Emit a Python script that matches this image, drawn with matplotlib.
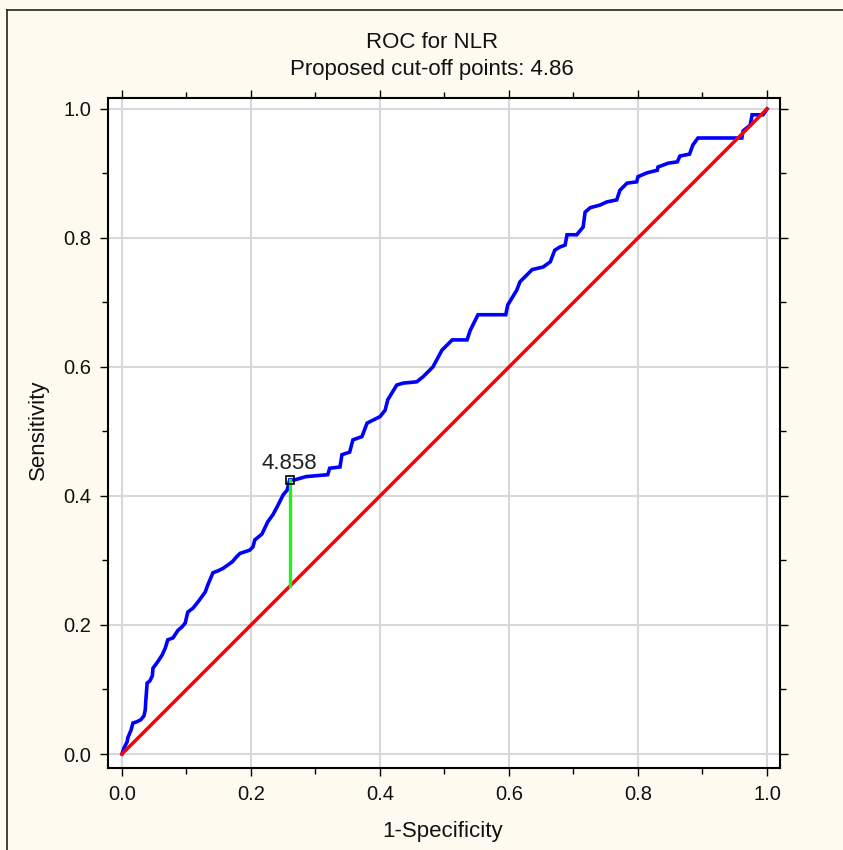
import matplotlib
matplotlib.use("Agg")
import matplotlib.pyplot as plt
from matplotlib import font_manager
from matplotlib.lines import Line2D

# ---- data ----
fpr = [0.000, 0.003, 0.008, 0.009, 0.014, 0.017, 0.023, 0.029, 0.034, 0.036, 0.037, 0.039,
       0.043, 0.047, 0.048, 0.054, 0.062, 0.067, 0.071, 0.079, 0.087, 0.093, 0.098, 0.102,
       0.110, 0.118, 0.129, 0.133, 0.141, 0.149, 0.157, 0.164, 0.171, 0.177, 0.183, 0.198,
       0.203, 0.206, 0.211, 0.217, 0.226, 0.234, 0.242, 0.250, 0.256, 0.260, 0.268, 0.285,
       0.319, 0.322, 0.338, 0.341, 0.353, 0.358, 0.372, 0.380, 0.400, 0.408, 0.412, 0.426,
       0.436, 0.457, 0.467, 0.482, 0.488, 0.496, 0.512, 0.535, 0.540, 0.552, 0.595, 0.598,
       0.612, 0.617, 0.628, 0.636, 0.653, 0.664, 0.671, 0.679, 0.687, 0.690, 0.705, 0.715,
       0.718, 0.726, 0.741, 0.752, 0.767, 0.772, 0.783, 0.798, 0.800, 0.814, 0.830, 0.831,
       0.847, 0.861, 0.865, 0.880, 0.885, 0.893, 0.961, 0.963, 0.974, 0.977, 0.994, 1.000]
tpr = [0.000, 0.009, 0.019, 0.025, 0.037, 0.048, 0.050, 0.053, 0.059, 0.068, 0.084, 0.110,
       0.113, 0.121, 0.133, 0.141, 0.153, 0.164, 0.177, 0.180, 0.192, 0.197, 0.203, 0.220,
       0.226, 0.236, 0.251, 0.262, 0.281, 0.284, 0.288, 0.293, 0.298, 0.305, 0.311, 0.316,
       0.321, 0.332, 0.336, 0.341, 0.360, 0.371, 0.386, 0.402, 0.409, 0.425, 0.425, 0.430,
       0.433, 0.443, 0.445, 0.464, 0.468, 0.487, 0.492, 0.513, 0.523, 0.533, 0.549, 0.572,
       0.575, 0.577, 0.585, 0.600, 0.611, 0.626, 0.642, 0.642, 0.657, 0.681, 0.681, 0.696,
       0.719, 0.732, 0.743, 0.751, 0.755, 0.763, 0.781, 0.786, 0.789, 0.805, 0.805, 0.817,
       0.840, 0.847, 0.851, 0.856, 0.859, 0.874, 0.885, 0.887, 0.895, 0.901, 0.905, 0.910,
       0.916, 0.918, 0.927, 0.930, 0.944, 0.955, 0.955, 0.966, 0.975, 0.991, 0.991, 1.000]
ref_line = [0.0, 1.0]
cutoff_fpr = 0.260
cutoff_tpr = 0.425
cutoff_label = "4.858"
xticks = [0.0, 0.2, 0.4, 0.6, 0.8, 1.0]
yticks = [0.0, 0.2, 0.4, 0.6, 0.8, 1.0]
title_lines = ["ROC for NLR", "Proposed cut-off points: 4.86"]
xlabel = "1-Specificity"
ylabel = "Sensitivity"

# ---- font ----
avail = {f.name for f in font_manager.fontManager.ttflist}
fam = "Liberation Sans Narrow" if "Liberation Sans Narrow" in avail else "Liberation Sans"
plt.rcParams['font.family'] = [fam, 'DejaVu Sans']

W, H = 843, 850
fig = plt.figure(figsize=(W / 100, H / 100), dpi=100)
bg = '#fffaef'
fig.patch.set_facecolor(bg)

# frame lines (left / top) of the window
fig.add_artist(Line2D([6.5 / W, 6.5 / W], [0, 1 - 10 / H], transform=fig.transFigure, color='#222222', lw=1.2))
fig.add_artist(Line2D([6.5 / W, 1], [1 - 10 / H, 1 - 10 / H], transform=fig.transFigure, color='#222222', lw=1.2))

ax = fig.add_axes([108 / W, 1 - 768 / H, (780 - 108) / W, (768 - 98) / H])
ax.set_facecolor('white')
ax.set_xlim(-0.0217, 1.0202)
ax.set_ylim(-0.0217, 1.017)

ax.set_xticks(xticks)
ax.set_yticks(yticks)
ax.set_xticks([0.1, 0.3, 0.5, 0.7, 0.9], minor=True)
ax.set_yticks([0.1, 0.3, 0.5, 0.7, 0.9], minor=True)
ax.set_xticklabels([f"{v:.1f}" for v in xticks])
ax.set_yticklabels([f"{v:.1f}" for v in yticks])
ax.tick_params(which='both', direction='out', top=True, right=True, labeltop=False, labelright=False,
               width=1.0, color='black', labelsize=14.5, labelcolor='#111111')
ax.tick_params(which='major', length=6, pad=6)
ax.tick_params(which='minor', length=4)
for s in ax.spines.values():
    s.set_linewidth(1.5)
    s.set_color('black')

ax.grid(True, which='major', color='#d8d8d8', lw=1.5)
ax.set_axisbelow(True)

ax.plot(fpr, tpr, color='#0000ff', lw=2.6, solid_joinstyle='miter', zorder=3)
ax.plot(ref_line, ref_line, color='#ff0000', lw=2.5, zorder=4)
ax.plot([cutoff_fpr, cutoff_fpr], [cutoff_fpr, cutoff_tpr], color='#22ee22', lw=2.4, zorder=5)
ax.plot([cutoff_fpr], [cutoff_tpr], marker='s', ms=6, mfc='none', mec='black', mew=1.2, zorder=6)
ax.annotate(cutoff_label, (cutoff_fpr, cutoff_tpr), xytext=(0, 4), textcoords='offset points',
            ha='center', va='bottom', fontsize=16, color='#222222', zorder=7)

fig.text(432 / W, 1 - 42 / H, title_lines[0], ha='center', va='center', fontsize=16, color='#111111')
fig.text(432 / W, 1 - 70 / H, title_lines[1], ha='center', va='center', fontsize=16, color='#111111')
fig.text(443 / W, 1 - 832 / H, xlabel, ha='center', va='center', fontsize=16, color='#111111')
fig.text(38 / W, 1 - 430 / H, ylabel, ha='center', va='center', rotation=90, fontsize=16, color='#111111')

fig.savefig('out.png', dpi=100, facecolor=bg)
